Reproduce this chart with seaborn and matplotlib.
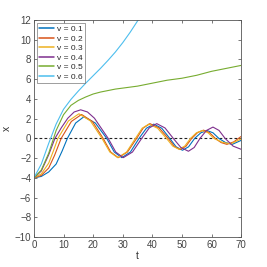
import numpy as np
import pandas as pd
import matplotlib
matplotlib.use("Agg")
import matplotlib.pyplot as plt
import seaborn as sns

# points (starts, zero crossings, peaks and troughs)
t_v01 = [0, 2.5, 5, 7.5, 9.5, 11.3, 14.1, 16.9, 20.75, 24.6, 27.15, 29.7, 32.6, 35.5, 38.0, 40.5,
         43.2, 45.9, 48.05, 50.2, 52.25, 54.3, 56.4, 58.5, 60.5, 62.5, 64.75, 67, 70]
x_v01 = [-4, -3.85, -3.4, -2.6, -1.3, 0, 1.56, 2.2, 1.56, 0, -1.38, -1.95, -1.38, 0, 1.03, 1.45,
         1.03, 0, -0.85, -1.2, -0.85, 0, 0.57, 0.8, 0.57, 0, -0.42, -0.6, -0.2]

t_v02 = [0, 2.5, 5, 7, 9.2, 12.65, 16.1, 19.75, 23.4, 25.95, 28.5, 31.6, 34.7, 36.95, 39.2,
         42.3, 45.4, 47.4, 49.4, 51.35, 53.3, 55.3, 57.3, 59.3, 61.3, 63.25, 65.2, 67.5, 70]
x_v02 = [-4, -3.75, -3.0, -1.7, 0, 1.72, 2.43, 1.72, 0, -1.38, -1.95, -1.38, 0, 1.06, 1.5,
         1.06, 0, -0.8, -1.13, -0.8, 0, 0.59, 0.84, 0.59, 0, -0.42, -0.6, -0.35, 0.2]

t_v03 = [0, 2.5, 5, 6.6, 8.1, 11.65, 15.2, 19.1, 23.0, 25.65, 28.3, 31.3, 34.3, 36.55, 38.8,
         41.8, 44.8, 46.9, 49.0, 50.95, 52.9, 54.9, 56.9, 58.85, 60.8, 63.65, 66.5, 70]
x_v03 = [-4, -3.6, -2.5, -1.25, 0, 1.77, 2.5, 1.77, 0, -1.38, -1.95, -1.38, 0, 1.03, 1.45,
         1.03, 0, -0.78, -1.1, -0.78, 0, 0.57, 0.8, 0.57, 0, -0.39, -0.55, -0.05]

t_v04 = [0, 2.5, 5, 7.1, 9.3, 11.45, 13.6, 15.8, 18.1, 20.45, 25.1, 27.65, 30.2, 33.3, 36.4,
         38.95, 41.5, 44.3, 47.1, 49.65, 52.2, 54.15, 56.1, 58.3, 60.5, 62.55, 64.6, 67.3, 70]
x_v04 = [-4, -3.3, -1.65, 0, 1.1, 2.05, 2.68, 2.9, 2.68, 2.05, 0, -1.38, -1.95, -1.38, 0,
         1.06, 1.5, 1.06, 0, -0.92, -1.3, -0.92, 0, 0.81, 1.15, 0.81, 0, -0.78, -1.1]

t_v05 = [0, 2.5, 5, 7.5, 10, 12.5, 15, 17.5, 20, 22.5, 25, 27.5, 30, 32.5, 35,
         37.5, 40, 42.5, 45, 47.5, 50, 52.5, 55, 57.5, 60, 62.5, 65, 67.5, 70]
x_v05 = [-4, -3.2, -1.5, 0.8, 2.4, 3.35, 3.85, 4.2, 4.5, 4.7, 4.85, 5.0, 5.1, 5.2, 5.3,
         5.45, 5.6, 5.75, 5.9, 6.0, 6.1, 6.25, 6.4, 6.6, 6.8, 6.95, 7.1, 7.25, 7.4]

# v = 0.6 leaves the axes near t = 35
t_v06 = [0, 2.5, 5, 7.5, 10, 12.5, 15, 17.5, 20, 22.5, 25, 27.5, 30, 32.5, 35, 37.5]
x_v06 = [-4, -2.6, -0.5, 1.45, 2.95, 3.95, 4.8, 5.6, 6.35, 7.1, 7.9, 8.75, 9.7, 10.75, 11.9, 13.0]

labels = ["v = 0.1", "v = 0.2", "v = 0.3", "v = 0.4", "v = 0.5", "v = 0.6"]
colors = ["#0072BD", "#D95319", "#EDB120", "#7E2F8E", "#77AC30", "#4DBEEE"]

series = [(t_v01, x_v01), (t_v02, x_v02), (t_v03, x_v03),
          (t_v04, x_v04), (t_v05, x_v05), (t_v06, x_v06)]
df = pd.concat([pd.DataFrame({"t": ts, "x": xs, "v": lab})
                for lab, (ts, xs) in zip(labels, series)], ignore_index=True)

sns.set_style("ticks")
plt.rcParams["font.family"] = ["Liberation Sans", "DejaVu Sans"]

fig = plt.figure(figsize=(2.67, 2.67), dpi=100)
ax = fig.add_axes([0.127, 0.112, 0.776, 0.813])

sns.lineplot(data=df, x="t", y="x", hue="v", hue_order=labels,
             palette=colors, estimator=None, sort=False, linewidth=0.8,
             legend=False, ax=ax)
ax.axhline(0, color="#222222", linestyle=(0, (2.5, 2)), linewidth=0.8, zorder=0)

ax.set_xlim(0, 70)
ax.set_ylim(-10, 12)
ax.set_xticks(np.arange(0, 71, 10))
ax.set_yticks(np.arange(-10, 13, 2))
ax.tick_params(direction="in", length=2.5, width=0.5, labelsize=7,
               colors="#444444", top=True, right=True, pad=2)
for sp in ax.spines.values():
    sp.set_visible(True)
    sp.set_linewidth(0.6)
    sp.set_color("#555555")
ax.set_xlabel("t", fontsize=7.5, color="#333333", labelpad=1)
ax.set_ylabel("x", fontsize=7.5, color="#333333")
ax.yaxis.set_label_coords(-0.105, 0.5)

leg = ax.legend(ax.lines[:6], labels, loc="upper left", fontsize=6,
                frameon=True, fancybox=False, handlelength=1.8,
                handletextpad=0.3, labelspacing=0.2, borderpad=0.3,
                borderaxespad=0.35)
leg.get_frame().set_edgecolor("#555555")
leg.get_frame().set_linewidth(0.5)
for h in leg.legend_handles:
    h.set_linewidth(1.1)

fig.savefig("out.png", dpi=100)
